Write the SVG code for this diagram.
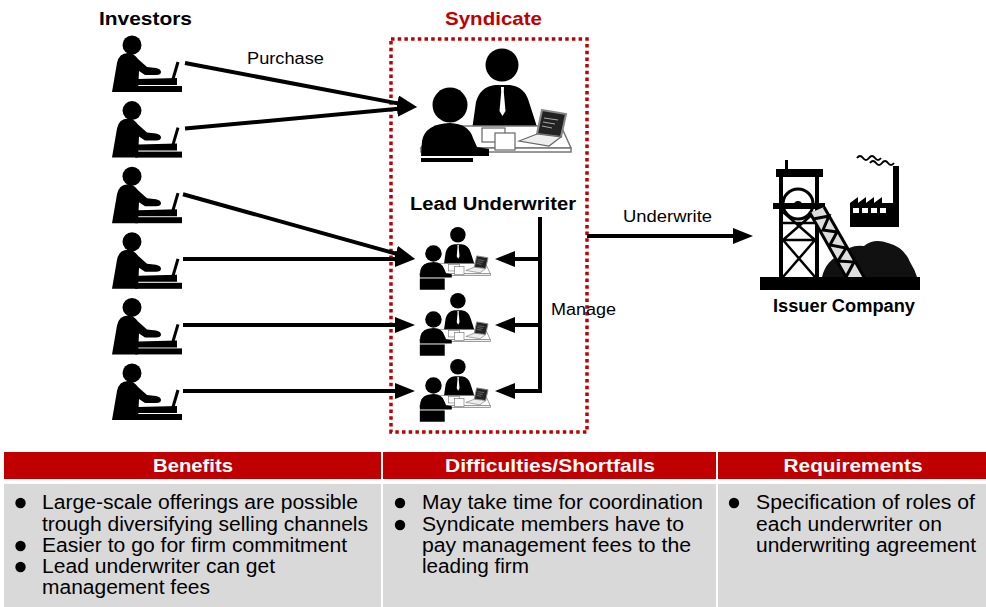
<svg xmlns="http://www.w3.org/2000/svg" xmlns:xlink="http://www.w3.org/1999/xlink" width="986" height="607" viewBox="0 0 986 607">
  <style>
    .t { font-family: "Liberation Sans", Arial, sans-serif; fill: #000; }
    .b { font-weight: bold; }
    .lbl { font-size: 16px; }
    .hd { font-size: 18px; font-weight: bold; fill: #fff; }
    .body { font-size: 19.5px; }
    .conn { stroke: #000; stroke-width: 4; fill: none; }
    .ink { fill: #000; }
  </style>
  <defs>
    <marker id="arrow" markerUnits="userSpaceOnUse" markerWidth="20" markerHeight="16" refX="15" refY="8" orient="auto">
      <path d="M0,0 L20,8 L0,16 Z" fill="#000"/>
    </marker>
    <!-- person working at a desk terminal -->
    <g id="investor">
      <circle cx="24" cy="10" r="9.5" class="ink"/>
      <path class="ink" d="M4,57 L9,28 Q11,18 20,18 Q26,18 30,24 L39,32 L48,33 Q53,34 53,37 Q53,40 48,40 L37,40 L31,36 L30,57 Z"/>
      <path class="ink" d="M30,44 L69,43 L69,50 L30,50 Z"/>
      <rect x="27" y="51" width="47" height="6" class="ink"/>
      <line x1="65" y1="44" x2="70" y2="27" stroke="#000" stroke-width="3"/>
    </g>
    <!-- two people meeting at a table -->
    <g id="meeting">
      <circle cx="87" cy="25" r="16.5" class="ink"/>
      <path class="ink" d="M57,90 L61,62 Q65,47 80,45 L95,45 Q110,47 114,62 L123,90 Z"/>
      <path fill="#fff" d="M86,47 L89,47 L88.8,52 L90.5,71 L87.5,76 L84.5,71 L86.2,52 Z"/>
      <path d="M6,108 L20,86 L146,86 L156,108 Z" fill="#fff" stroke="#777" stroke-width="1.5"/>
      <rect x="6" y="108" width="150" height="4" fill="#fff" stroke="#777" stroke-width="1.5"/>
      <rect x="67" y="88" width="23" height="14" fill="#fff" stroke="#666" stroke-width="1.2"/>
      <rect x="80" y="93" width="20" height="17" fill="#fff" stroke="#666" stroke-width="1.2"/>
      <path d="M127,70 L151,74 L146,97 L122,94 Z" fill="#222" stroke="#888" stroke-width="2"/>
      <path d="M129,78 L143,80 M128,82 L140,84 M127,86 L137,88" stroke="#aaa" stroke-width="1"/>
      <path d="M104,101 L122,94 L146,97 L134,106 Z" fill="#eee" stroke="#666" stroke-width="1.2"/>
      <circle cx="35" cy="65" r="17.5" class="ink"/>
      <path class="ink" d="M6,116 L7,101 Q10,84 35,83 Q54,84 58,98 L62,107 L74,109 L74,116 Z"/>
    </g>
  </defs>

  <rect width="986" height="607" fill="#fff"/>

  <!-- column titles -->
  <text class="t b" x="99" y="25" font-size="19" textLength="93" lengthAdjust="spacingAndGlyphs">Investors</text>
  <text class="t b" x="445" y="25" font-size="19" style="fill:#c00000" textLength="97" lengthAdjust="spacingAndGlyphs">Syndicate</text>

  <!-- syndicate boundary -->
  <rect id="syndicate" x="391" y="39" width="196" height="393" fill="none" stroke="#c00000" stroke-width="3.5" stroke-dasharray="3.5 3.2"/>

  <!-- investors -->
  <g id="investor-1"><use xlink:href="#investor" transform="translate(108,35)"/></g>
  <g id="investor-2"><use xlink:href="#investor" transform="translate(108,100.6)"/></g>
  <g id="investor-3"><use xlink:href="#investor" transform="translate(108,166.2)"/></g>
  <g id="investor-4"><use xlink:href="#investor" transform="translate(108,231.8)"/></g>
  <g id="investor-5"><use xlink:href="#investor" transform="translate(108,297.4)"/></g>
  <g id="investor-6"><use xlink:href="#investor" transform="translate(108,363)"/></g>

  <!-- lead underwriter -->
  <g id="lead-underwriter">
    <use xlink:href="#meeting" transform="translate(415,40)"/>
    <rect x="421" y="158" width="52" height="4" class="ink"/>
    <text class="t b" x="410" y="210" font-size="18" textLength="166" lengthAdjust="spacingAndGlyphs">Lead Underwriter</text>
  </g>

  <!-- syndicate members -->
  <g id="member-1" transform="translate(417,223) scale(0.47)">
    <use xlink:href="#meeting"/>
    <rect x="6" y="118" width="53" height="24" class="ink"/>
  </g>
  <g id="member-2" transform="translate(417,289) scale(0.47)">
    <use xlink:href="#meeting"/>
    <rect x="6" y="118" width="53" height="24" class="ink"/>
  </g>
  <g id="member-3" transform="translate(417,355) scale(0.47)">
    <use xlink:href="#meeting"/>
    <rect x="6" y="118" width="53" height="24" class="ink"/>
  </g>

  <!-- issuer company: headframe, factory and coal heap -->
  <g id="issuer-company">
    <path d="M857,158 q3,-4 6,0 t6,0 t6,0 t6,0" fill="none" stroke="#000" stroke-width="2"/>
    <path d="M870,163 q3,-4 6,0 t6,0 t6,0 t6,0" fill="none" stroke="#000" stroke-width="2"/>
    <path class="ink" d="M850,227 L850,203 L858,197 L858,203 L866,197 L866,203 L874,197 L874,203 L882,197 L882,203 L893,203 L893,166 L899,166 L899,227 Z"/>
    <rect x="853" y="208" width="6" height="5" fill="#fff"/>
    <rect x="862" y="208" width="6" height="5" fill="#fff"/>
    <rect x="871" y="208" width="6" height="5" fill="#fff"/>
    <rect x="880" y="208" width="6" height="5" fill="#fff"/>
    <path fill="#111" d="M822,277 Q826,260 842,254 Q850,244 864,246 Q874,238 888,243 Q904,247 910,262 Q915,270 917,277 Z"/>
    <rect x="785" y="160" width="3" height="10" class="ink"/>
    <rect x="776" y="169" width="47" height="8" class="ink"/>
    <rect x="779" y="177" width="4" height="100" class="ink"/>
    <rect x="815" y="177" width="4" height="100" class="ink"/>
    <circle cx="798" cy="204" r="15" fill="none" stroke="#000" stroke-width="3"/>
    <rect x="773" y="203" width="52" height="6" class="ink"/>
    <circle cx="798" cy="205" r="4" class="ink"/>
    <path d="M783,212 L815,240 M815,212 L783,240 M783,240 L815,277 M815,240 L783,277 M781,240 L817,240 M781,223 L817,223" stroke="#000" stroke-width="2.5" fill="none"/>
    <path d="M810,213 L824,207 L864,277 L846,277 Z" fill="#ddd"/>
    <path d="M810,213 L846,277 M824,207 L864,277 M813,219 L829,216 L823,230 L837,232 L830,245 L846,248 L838,261 L854,262 L846,277" stroke="#000" stroke-width="3" fill="none"/>
    <rect x="760" y="277" width="160" height="13" class="ink"/>
    <text class="t b" x="773" y="312" font-size="18" textLength="142" lengthAdjust="spacingAndGlyphs">Issuer Company</text>
  </g>

  <!-- connectors -->
  <g id="connectors">
    <line class="conn" x1="185" y1="63" x2="412.1" y2="106.1" marker-end="url(#arrow)"/>
    <line class="conn" x1="185" y1="128.6" x2="412" y2="107.5" marker-end="url(#arrow)"/>
    <line class="conn" x1="183" y1="194.2" x2="410.2" y2="257.6" marker-end="url(#arrow)"/>
    <line class="conn" x1="183" y1="259" x2="410" y2="259" marker-end="url(#arrow)"/>
    <line class="conn" x1="183" y1="325" x2="410" y2="325" marker-end="url(#arrow)"/>
    <line class="conn" x1="183" y1="391" x2="410" y2="391" marker-end="url(#arrow)"/>
    <line class="conn" x1="540" y1="217" x2="540" y2="393"/>
    <line class="conn" x1="542" y1="259" x2="500" y2="259" marker-end="url(#arrow)"/>
    <line class="conn" x1="542" y1="325" x2="500" y2="325" marker-end="url(#arrow)"/>
    <line class="conn" x1="542" y1="391" x2="500" y2="391" marker-end="url(#arrow)"/>
    <line class="conn" x1="587" y1="236" x2="748" y2="236" marker-end="url(#arrow)"/>
    <text class="t lbl" x="247" y="64" textLength="77" lengthAdjust="spacingAndGlyphs">Purchase</text>
    <text class="t lbl" x="551" y="315" textLength="65" lengthAdjust="spacingAndGlyphs">Manage</text>
    <text class="t lbl" x="623" y="222" textLength="89" lengthAdjust="spacingAndGlyphs">Underwrite</text>
  </g>

  <!-- summary table -->
  <g id="summary-table">
    <rect x="4" y="452" width="377" height="27" fill="#c00000"/>
    <rect x="383" y="452" width="333" height="27" fill="#c00000"/>
    <rect x="718" y="452" width="268" height="27" fill="#c00000"/>
    <rect x="4" y="484" width="377" height="123" fill="#d9d9d9"/>
    <rect x="383" y="484" width="333" height="123" fill="#d9d9d9"/>
    <rect x="718" y="484" width="268" height="123" fill="#d9d9d9"/>

    <text class="t hd" x="193" y="472" text-anchor="middle" textLength="80" lengthAdjust="spacingAndGlyphs">Benefits</text>
    <text class="t hd" x="550" y="472" text-anchor="middle" textLength="210" lengthAdjust="spacingAndGlyphs">Difficulties/Shortfalls</text>
    <text class="t hd" x="853" y="472" text-anchor="middle" textLength="139" lengthAdjust="spacingAndGlyphs">Requirements</text>

    <circle cx="20.5" cy="503" r="5.2" class="ink"/>
    <circle cx="20.5" cy="546" r="5.2" class="ink"/>
    <circle cx="20.5" cy="567" r="5.2" class="ink"/>
    <text class="t body" x="42" y="509" textLength="316" lengthAdjust="spacingAndGlyphs">Large-scale offerings are possible</text>
    <text class="t body" x="42" y="531" textLength="326" lengthAdjust="spacingAndGlyphs">trough diversifying selling channels</text>
    <text class="t body" x="42" y="552" textLength="305" lengthAdjust="spacingAndGlyphs">Easier to go for firm commitment</text>
    <text class="t body" x="42" y="573" textLength="233" lengthAdjust="spacingAndGlyphs">Lead underwriter can get</text>
    <text class="t body" x="42" y="594" textLength="168" lengthAdjust="spacingAndGlyphs">management fees</text>

    <circle cx="400" cy="503" r="5.2" class="ink"/>
    <circle cx="400" cy="525" r="5.2" class="ink"/>
    <text class="t body" x="422" y="509" textLength="281" lengthAdjust="spacingAndGlyphs">May take time for coordination</text>
    <text class="t body" x="422" y="531" textLength="262" lengthAdjust="spacingAndGlyphs">Syndicate members have to</text>
    <text class="t body" x="422" y="552" textLength="269" lengthAdjust="spacingAndGlyphs">pay management fees to the</text>
    <text class="t body" x="422" y="573" textLength="107" lengthAdjust="spacingAndGlyphs">leading firm</text>

    <circle cx="734" cy="503" r="5.2" class="ink"/>
    <text class="t body" x="756" y="509" textLength="219" lengthAdjust="spacingAndGlyphs">Specification of roles of</text>
    <text class="t body" x="756" y="531" textLength="186" lengthAdjust="spacingAndGlyphs">each underwriter on</text>
    <text class="t body" x="756" y="552" textLength="220" lengthAdjust="spacingAndGlyphs">underwriting agreement</text>
  </g>
</svg>
